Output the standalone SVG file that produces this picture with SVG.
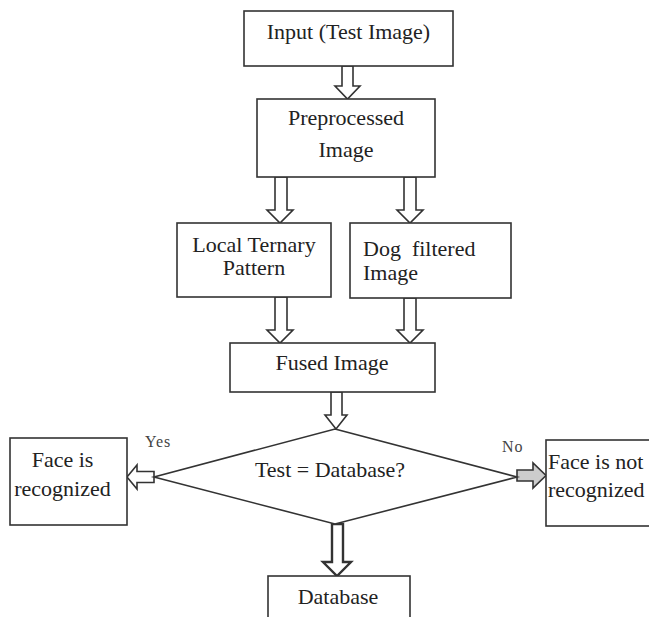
<svg xmlns="http://www.w3.org/2000/svg" width="649" height="617" viewBox="0 0 649 617">
<style>
.box{fill:#fff;stroke:#333;stroke-width:1.6}
.arr{fill:#fff;stroke:#333;stroke-width:1.6;stroke-linejoin:miter}
text{font-family:'Liberation Serif',serif;fill:#222}
.t{font-size:22px}
.c{text-anchor:middle}
.s{font-size:16px;fill:#444;letter-spacing:1px}
</style>
<rect width="649" height="617" fill="#fff"/>
<g id="connectors">
<polygon class="arr" points="342,66 353,66 353,86 360,86 347.5,99 335,86 342,86"/>
<polygon class="arr" points="275,177 287,177 287,210 293,210 280,223 267,210 275,210"/>
<polygon class="arr" points="404,177 416,177 416,210 423,210 410,223 397,210 404,210"/>
<polygon class="arr" points="275,297 287,297 287,330 293,330 280,343 267,330 275,330"/>
<polygon class="arr" points="404,298 416,298 416,330 423,330 410,343 397,330 404,330"/>
<polygon class="arr" points="331,392 342,392 342,415 347,415 336,429 325,415 331,415"/>
<polygon class="arr" points="154,471.5 137,471.5 137,465 127,477 137,489 137,482.5 154,482.5"/>
<polygon class="arr" style="fill:#ccc" points="517,470 533,470 533,463 546,475.5 533,488 533,481 517,481"/>
<polygon class="arr" style="stroke-width:2.4" points="332,524 343,524 343,562 351,562 337,576 323,562 332,562"/>
</g>
<g id="input">
<rect class="box" x="244" y="11" width="209" height="55"/>
<text class="t c" x="348.5" y="39">Input (Test Image)</text>
</g>
<g id="preprocessed">
<rect class="box" x="257" y="99" width="178" height="78"/>
<text class="t c" x="346" y="125">Preprocessed</text>
<text class="t c" x="346" y="157">Image</text>
</g>
<g id="ltp">
<rect class="box" x="177" y="223" width="154" height="74"/>
<text class="t c" x="254" y="252">Local Ternary</text>
<text class="t c" x="254" y="275">Pattern</text>
</g>
<g id="dog">
<rect class="box" x="350" y="223" width="161" height="75"/>
<text class="t" x="363" y="256" xml:space="preserve">Dog  filtered</text>
<text class="t" x="363" y="280">Image</text>
</g>
<g id="fused">
<rect class="box" x="230" y="343" width="205" height="49"/>
<text class="t c" x="332" y="370">Fused Image</text>
</g>
<g id="decision">
<polygon class="box" points="335,429 517,477 335,524 154,477"/>
<text class="t c" x="330" y="477">Test = Database?</text>
<text class="s" x="145" y="447">Yes</text>
<text class="s" x="502" y="452">No</text>
</g>
<g id="recognized">
<rect class="box" x="10" y="438" width="117" height="87"/>
<text class="t c" x="62.5" y="467">Face is</text>
<text class="t c" x="62.5" y="496">recognized</text>
</g>
<g id="notrecognized">
<rect class="box" x="546" y="440" width="110" height="86"/>
<text class="t" x="548" y="469">Face is not</text>
<text class="t" x="548" y="497">recognized</text>
</g>
<g id="database">
<rect class="box" x="268" y="576" width="142" height="50"/>
<text class="t c" x="338" y="604">Database</text>
</g>
</svg>
